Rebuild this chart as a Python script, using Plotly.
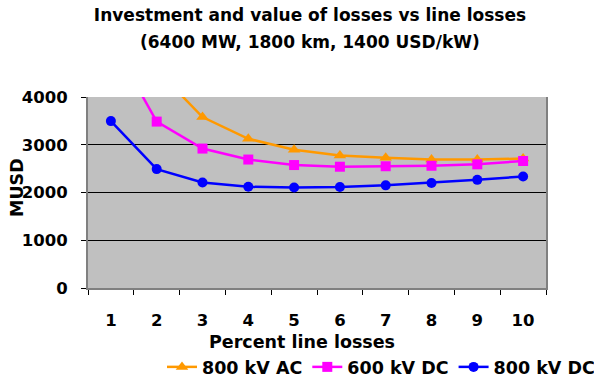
import plotly.graph_objects as go

# Percent line losses (category axis)
loss_pct = ["1", "2", "3", "4", "5", "6", "7", "8", "9", "10"]

# Investment + value of losses, MUSD
ac_800kv = [6500, 4570, 3580, 3125, 2895, 2775, 2730, 2690, 2690, 2710]
dc_600kv = [5200, 3485, 2920, 2690, 2575, 2540, 2550, 2560, 2590, 2660]
dc_800kv = [3495, 2490, 2210, 2120, 2105, 2115, 2150, 2200, 2265, 2335]

y_ticks = [0, 1000, 2000, 3000, 4000]

FONT = "DejaVu Sans"
L, R, T, B = 88, 48, 97, 94
W, H = 594, 382
PW, PH = W - L - R, H - T - B


def px_to_paper(x, y):
    return (x - L) / PW, (H - B - y) / PH


fig = go.Figure()

series = [
    ("800 kV AC", ac_800kv, "#FF9900", "triangle-up", 11),
    ("600 kV DC", dc_600kv, "#FF00FF", "square", 10),
    ("800 kV DC", dc_800kv, "#0000FF", "circle", 10),
]
for name, vals, color, symbol, size in series:
    fig.add_trace(go.Scatter(
        x=loss_pct, y=vals, name=name, mode="lines+markers",
        line=dict(color=color, width=2.5),
        marker=dict(symbol=symbol, size=size, color=color),
    ))

fig.update_layout(
    width=W, height=H,
    margin=dict(l=L, r=R, t=T, b=B, pad=0),
    paper_bgcolor="white",
    plot_bgcolor="#C0C0C0",
    font=dict(family=FONT, color="black", size=16),
    title=dict(
        text="<b>Investment and value of losses vs line losses</b>",
        font=dict(family=FONT, size=17, color="black"),
        xref="container", yref="container",
        x=310 / W, y=1 - 15 / H, xanchor="center", yanchor="middle",
    ),
    showlegend=True,
    legend=dict(
        orientation="h",
        xref="container", yref="container",
        x=162 / W, y=1 - 367 / H, xanchor="left", yanchor="middle",
        font=dict(family=FONT, size=17.5, color="black", weight="bold"),
        bgcolor="rgba(0,0,0,0)",
        itemwidth=30,
        traceorder="normal",
    ),
)

fig.update_xaxes(
    type="category",
    range=[-0.5, len(loss_pct) - 0.5],
    tickson="boundaries",
    ticks="outside", ticklen=5, tickcolor="black", tickwidth=1,
    showline=True, linecolor="#808080", linewidth=2,
    showgrid=False, zeroline=False,
    tickfont=dict(family=FONT, size=16.5, color="black", weight="bold"),
    ticklabelstandoff=16,
)
fig.update_yaxes(
    range=[0, 4000],
    tickmode="array", tickvals=y_ticks, ticktext=[str(v) for v in y_ticks],
    ticks="outside", ticklen=5, tickcolor="black", tickwidth=1,
    showline=True, mirror=True, linecolor="#808080", linewidth=2,
    showgrid=True, gridcolor="black", gridwidth=1,
    zeroline=False,
    tickfont=dict(family=FONT, size=16.5, color="black", weight="bold"),
    ticklabelstandoff=10,
)

# Second title line
sx, sy = px_to_paper(310, 41.7)
fig.add_annotation(
    text="<b>(6400 MW, 1800 km, 1400 USD/kW)</b>",
    xref="paper", yref="paper", x=sx, y=sy,
    xanchor="center", yanchor="middle", showarrow=False,
    font=dict(family=FONT, size=17, color="black"),
)

# Axis titles
ax, ay = px_to_paper(302, 341.7)
fig.add_annotation(
    text="<b>Percent line losses</b>",
    xref="paper", yref="paper", x=ax, y=ay,
    xanchor="center", yanchor="middle", showarrow=False,
    font=dict(family=FONT, size=17.5, color="black"),
)
mx, my = px_to_paper(17, 188)
fig.add_annotation(
    text="<b>MUSD</b>", textangle=-90,
    xref="paper", yref="paper", x=mx, y=my,
    xanchor="center", yanchor="middle", showarrow=False,
    font=dict(family=FONT, size=17.5, color="black"),
)

fig.write_html("out.html")
